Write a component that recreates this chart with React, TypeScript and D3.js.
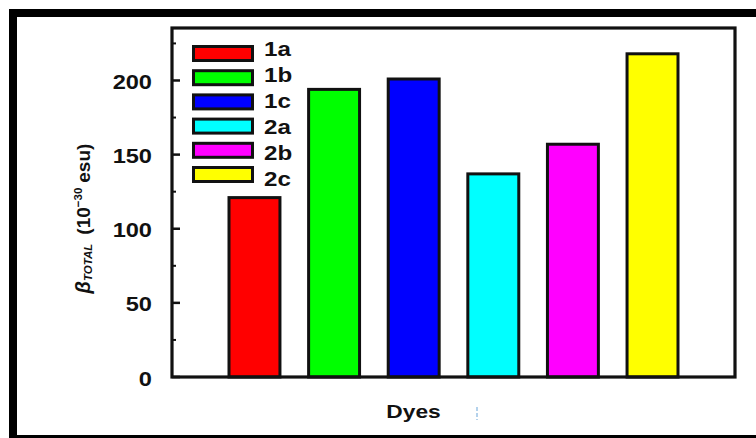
import React from "react";
import * as d3 from "d3";

const categories = ["1a", "1b", "1c", "2a", "2b", "2c"];
const values = [121, 194, 201, 137, 157, 218];
const colors = ["#ff0000", "#00ff00", "#0000ff", "#00ffff", "#ff00ff", "#ffff00"];
const majorTicks = [0, 50, 100, 150, 200];
const minorTicks = [25, 75, 125, 175, 225];

const W = 756;
const H = 438;
const FONT = "'Liberation Sans', Arial, sans-serif";
const INK = "#111";

export default function App() {
  const left = 172, right = 735, top = 28, bottom = 377;
  const x = d3.scaleBand<string>().domain(categories).range([left, right]).paddingInner(0.36).paddingOuter(0.716);
  const y = d3.scaleLinear().domain([0, 235.4]).range([bottom, top]);

  return (
    <svg width={W} height={H} style={{ position: "absolute", left: 0, top: 0, background: "#fff" }}>
      <rect x={0} y={0} width={W} height={H} fill="#fff" />
      {/* outer frame */}
      <rect x={13} y={13} width={800} height={426} fill="none" stroke="#000" strokeWidth={8} />

      {/* bars */}
      {categories.map((c, i) => (
        <rect
          key={c}
          x={x(c)!}
          y={y(values[i])}
          width={x.bandwidth()}
          height={y(0) - y(values[i])}
          fill={colors[i]}
          stroke={INK}
          strokeWidth={3}
        />
      ))}

      {/* plot frame */}
      <rect x={left} y={top} width={right - left} height={bottom - top} fill="none" stroke={INK} strokeWidth={3.2} />

      {/* ticks */}
      {majorTicks.map((t) => (
        <g key={"M" + t}>
          <line x1={left} x2={left + 8} y1={y(t)} y2={y(t)} stroke={INK} strokeWidth={2.5} />
          <text
            transform={`translate(152,${y(t) + 8.5}) scale(1.18,1)`}
            textAnchor="end"
            fontFamily={FONT}
            fontWeight="bold"
            fontSize={20}
            fill={INK}
          >
            {t}
          </text>
        </g>
      ))}
      {minorTicks.map((t) => (
        <line key={"m" + t} x1={left} x2={left + 4} y1={y(t)} y2={y(t)} stroke={INK} strokeWidth={2} />
      ))}

      {/* legend */}
      {categories.map((c, i) => (
        <g key={"L" + c}>
          <rect x={193.5} y={53.5 + 24.2 * i - 7} width={59} height={14} fill={colors[i]} stroke={INK} strokeWidth={3} />
          <text
            transform={`translate(264,${55.5 + 26 * i}) scale(1.15,1)`}
            fontFamily={FONT}
            fontWeight="bold"
            fontSize={21}
            fill={INK}
          >
            {c}
          </text>
        </g>
      ))}

      {/* y axis label */}
      <text
        transform="translate(90,218.5) rotate(-90)"
        textAnchor="middle"
        fontFamily={FONT}
        fontWeight="bold"
        fontSize={19}
        fill={INK}
      >
        <tspan fontStyle="italic" fontSize={20}>β</tspan>
        <tspan fontStyle="italic" fontSize={11.5} dy={2}>TOTAL</tspan>
        <tspan dy={-2} dx={9}>(10</tspan>
        <tspan fontSize={11.5} dy={-8}>−30</tspan>
        <tspan dy={8} dx={5}>esu)</tspan>
      </text>

      {/* x axis label */}
      <text
        transform="translate(413.5,418) scale(1.3,1)"
        textAnchor="middle"
        fontFamily={FONT}
        fontWeight="bold"
        fontSize={17.5}
        fill={INK}
      >
        Dyes
      </text>
      <line x1={477} x2={477} y1={407} y2={420} stroke="#9cc3e6" strokeWidth={1.5} strokeDasharray="4 2" />
    </svg>
  );
}
